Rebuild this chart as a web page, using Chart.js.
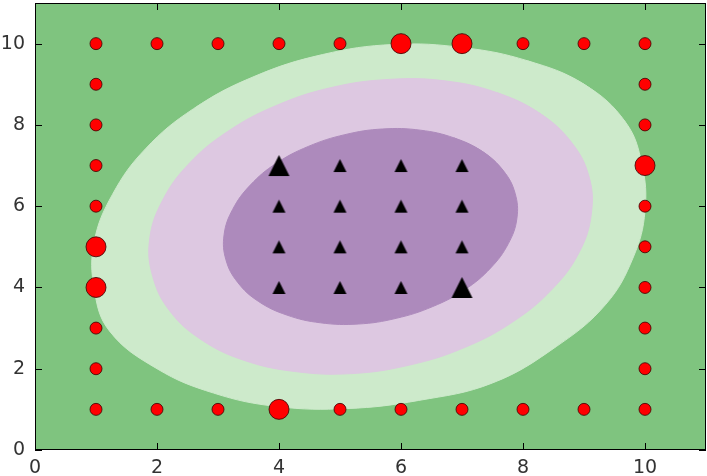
<!DOCTYPE html>
<html>
<head>
<meta charset="utf-8">
<script src="https://cdn.jsdelivr.net/npm/chart.js@4"></script>
<style>
    html, body { margin: 0; padding: 0; background: #fff; }
</style>
</head>
<body>
<canvas id="myChart" width="707" height="476"></canvas>
<script>
// tick positions on both axes
const xTicks = [0, 2, 4, 6, 8, 10]
const yTicks = [0, 2, 4, 6, 8, 10]

// red class (border of the grid), plain points and support vectors
const redX = [1, 2, 3, 4, 5, 8, 9, 10, 1, 2, 3, 5, 6, 7, 8, 9, 10, 1, 1, 1, 1, 1, 1, 10, 10, 10, 10, 10, 10, 10]
const redY = [10, 10, 10, 10, 10, 10, 10, 10, 1, 1, 1, 1, 1, 1, 1, 1, 1, 2, 3, 6, 7, 8, 9, 2, 3, 4, 5, 6, 8, 9]
const redSvX = [6, 7, 10, 1, 1, 4]
const redSvY = [10, 10, 7, 5, 4, 1]

// black class (inner square), plain points and support vectors
const blackX = [4, 5, 6, 4, 5, 6, 7, 4, 5, 6, 7, 5, 6, 7]
const blackY = [4, 4, 4, 5, 5, 5, 5, 6, 6, 6, 6, 7, 7, 7]
const blackSvX = [4, 7]
const blackSvY = [7, 4]

// decision function level curves (closed outlines)
const outerX = [9.0, 8.07, 7.03, 5.88, 4.71, 3.59, 2.60, 1.81, 1.27, 0.97, 0.97, 1.22, 2.0, 2.93, 3.97, 5.12, 6.29, 7.50, 8.55, 9.36, 9.81, 10.0, 9.95, 9.68, 9.0]
const outerY = [9.0, 9.58, 9.90, 9.98, 9.73, 9.19, 8.40, 7.41, 6.29, 5.12, 3.97, 2.93, 2.0, 1.40, 1.07, 1.02, 1.22, 1.65, 2.55, 3.59, 4.75, 5.88, 7.03, 8.07, 9.0]
const middleX = [8.28, 7.58, 6.74, 5.81, 4.86, 3.96, 3.16, 2.52, 2.09, 1.88, 1.93, 2.21, 2.72, 3.42, 4.27, 5.19, 6.14, 7.04, 7.84, 8.48, 8.92, 9.12, 9.08, 8.79, 8.28]
const middleY = [8.28, 8.79, 9.08, 9.12, 8.92, 8.48, 7.84, 7.04, 6.14, 5.19, 4.27, 3.42, 2.72, 2.21, 1.93, 1.88, 2.09, 2.52, 3.16, 3.96, 4.86, 5.81, 6.74, 7.58, 8.28]
const innerX = [7.34, 6.87, 6.32, 5.70, 5.08, 4.48, 3.95, 3.53, 3.24, 3.10, 3.13, 3.32, 3.66, 4.13, 4.68, 5.30, 5.92, 6.52, 7.05, 7.47, 7.76, 7.90, 7.87, 7.68, 7.34]
const innerY = [7.34, 7.68, 7.87, 7.90, 7.76, 7.47, 7.05, 6.52, 5.92, 5.30, 4.68, 4.13, 3.66, 3.32, 3.13, 3.10, 3.24, 3.53, 3.95, 4.48, 5.08, 5.70, 6.32, 6.87, 7.34]

const green = '#7fc47f'
const lightGreen = '#cdeacb'
const lightPurple = '#ddc8e1'
const purple = '#ad8abc'

const toPoints = (xs, ys) => xs.map((x, i) => ({ x: x, y: ys[i] }))

// closed outline: carry one point over each end so the spline
// has neighbours where the loop joins
function loop(xs, ys) {
    const pts = toPoints(xs, ys)
    const n = pts.length
    return [pts[n - 2]].concat(pts, [pts[1]])
}

// matplotlib-like '^' marker: as wide as it is tall
function triangle(size) {
    const c = document.createElement('canvas')
    c.width = size + 2
    c.height = size + 2
    const g = c.getContext('2d')
    g.beginPath()
    g.moveTo(c.width / 2, 1)
    g.lineTo(1, c.height - 1)
    g.lineTo(c.width - 1, c.height - 1)
    g.closePath()
    g.fillStyle = '#000'
    g.fill()
    return c
}

const level = (xs, ys, color) => ({
    data: loop(xs, ys),
    showLine: true,
    fill: 'shape',
    backgroundColor: color,
    borderColor: color,
    borderWidth: 1,
    tension: 0.4,
    pointRadius: 0
})

// keep the plot box fixed: no extra room for end labels
function fixBox(s, size) {
    if (s.isHorizontal()) s.height = size
    else s.width = size
    s.paddingTop = 0
    s.paddingBottom = 0
    s.paddingLeft = 0
    s.paddingRight = 0
}

const frame = {
    id: 'frame',
    beforeDatasetsDraw(chart) {
        const { ctx, chartArea: a } = chart
        ctx.save()
        ctx.fillStyle = green
        ctx.fillRect(a.left, a.top, a.right - a.left, a.bottom - a.top)
        ctx.restore()
    },
    afterDatasetsDraw(chart) {
        const { ctx, chartArea: a, scales } = chart
        ctx.save()
        ctx.strokeStyle = '#000'
        ctx.lineWidth = 1
        ctx.beginPath()
        xTicks.forEach(v => {
            const px = Math.round(scales.x.getPixelForValue(v)) + 0.5
            ctx.moveTo(px, a.bottom)
            ctx.lineTo(px, a.bottom - 7)
            ctx.moveTo(px, a.top)
            ctx.lineTo(px, a.top + 7)
        })
        yTicks.forEach(v => {
            const py = Math.round(scales.y.getPixelForValue(v)) + 0.5
            ctx.moveTo(a.left, py)
            ctx.lineTo(a.left + 7, py)
            ctx.moveTo(a.right, py)
            ctx.lineTo(a.right - 7, py)
        })
        ctx.stroke()
        ctx.strokeRect(a.left + 0.5, a.top + 0.5, a.right - a.left - 1, a.bottom - a.top - 1)
        ctx.restore()
    }
}

const ctx = document.getElementById('myChart').getContext('2d')
const myChart = new Chart(ctx, {
    type: 'scatter',
    data: {
        datasets: [
            {
                data: toPoints(redSvX, redSvY),
                pointRadius: 10,
                backgroundColor: '#ff0000',
                borderColor: 'rgba(60,0,0,0.8)',
                borderWidth: 1
            },
            {
                data: toPoints(redX, redY),
                pointRadius: 6,
                backgroundColor: '#ff0000',
                borderColor: 'rgba(60,0,0,0.8)',
                borderWidth: 1
            },
            {
                data: toPoints(blackSvX, blackSvY),
                pointStyle: triangle(21)
            },
            {
                data: toPoints(blackX, blackY),
                pointStyle: triangle(13)
            },
            level(innerX, innerY, purple),
            level(middleX, middleY, lightPurple),
            level(outerX, outerY, lightGreen)
        ]
    },
    options: {
        responsive: false,
        animation: false,
        events: [],
        layout: { autoPadding: false, padding: { top: 3, right: 1, left: 0, bottom: 0 } },
        plugins: {
            legend: { display: false },
            tooltip: { enabled: false }
        },
        scales: {
            x: {
                type: 'linear',
                min: 0,
                max: 11,
                grid: { display: false, drawTicks: false },
                border: { display: false },
                afterBuildTicks: s => { s.ticks = xTicks.map(v => ({ value: v })) },
                afterFit: s => fixBox(s, 26),
                ticks: {
                    padding: 7,
                    color: '#333',
                    font: { family: 'DejaVu Sans', size: 19 }
                }
            },
            y: {
                type: 'linear',
                min: 0,
                max: 11,
                grid: { display: false, drawTicks: false },
                border: { display: false },
                afterBuildTicks: s => { s.ticks = yTicks.map(v => ({ value: v })) },
                afterFit: s => fixBox(s, 35),
                ticks: {
                    padding: 10,
                    color: '#333',
                    font: { family: 'DejaVu Sans', size: 19 }
                }
            }
        }
    },
    plugins: [frame]
})
</script>
</body>
</html>
